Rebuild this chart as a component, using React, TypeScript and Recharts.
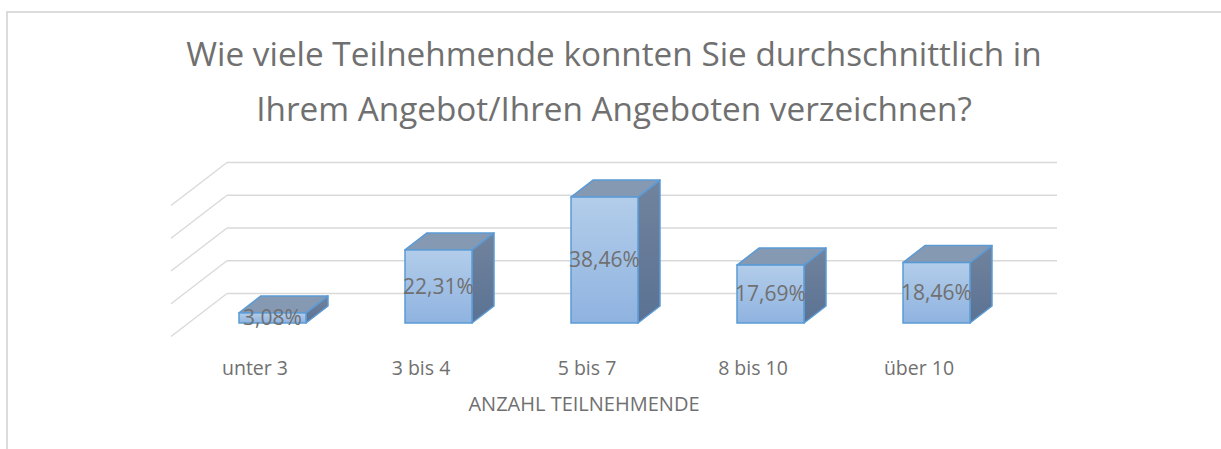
import React from 'react';
import { BarChart, Bar, XAxis, YAxis, CartesianGrid, LabelList } from 'recharts';

const categories = ['unter 3', '3 bis 4', '5 bis 7', '8 bis 10', 'über 10'];
const shares = [3.08, 22.31, 38.46, 17.69, 18.46];
const yTicks = [0, 10, 20, 30, 40];

const TITLE_1 = 'Wie viele Teilnehmende konnten Sie durchschnittlich in';
const TITLE_2 = 'Ihrem Angebot/Ihren Angeboten verzeichnen?';
const AXIS_TITLE = 'ANZAHL TEILNEHMENDE';

const data = categories.map((name, i) => ({ name, value: shares[i] }));

const FONT = '"Open Sans", sans-serif';
const TEXT = '#707070';
const GRID = '#d9d9d9';
const EDGE = '#5b9bd5';

// perspective offsets
const BAR_DX = 22, BAR_DY = 17;
const WALL_DX = 38, WALL_DY = 29.5;
const SIDE_DX = 56, SIDE_DY = 43;
const LABEL_SHIFT = -17;

const fmt = (v: any) => `${Number(v).toFixed(2).replace('.', ',')}%`;

function Box3D(props: any) {
  const { x, y, width: w, height: h } = props;
  if (w == null || h == null) return null;
  const top = `${x},${y} ${x + BAR_DX},${y - BAR_DY} ${x + w + BAR_DX},${y - BAR_DY} ${x + w},${y}`;
  const side = `${x + w},${y} ${x + w + BAR_DX},${y - BAR_DY} ${x + w + BAR_DX},${y + h - BAR_DY} ${x + w},${y + h}`;
  return (
    <g>
      <polygon points={side} fill="url(#sideGrad)" stroke={EDGE} strokeWidth={1.5} strokeLinejoin="round" />
      <polygon points={top} fill="#8699b2" stroke={EDGE} strokeWidth={1.5} strokeLinejoin="round" />
      <rect x={x} y={y} width={w} height={h} fill="url(#frontGrad)" stroke={EDGE} strokeWidth={1.5} />
    </g>
  );
}

function WallLine(props: any) {
  const { x1, y1, x2, index } = props;
  const bx = x1 + WALL_DX, by = y1 - WALL_DY;
  return (
    <g key={`wall-${index}`}>
      <line x1={bx} y1={by} x2={x2 + WALL_DX} y2={by} stroke={GRID} strokeWidth={1.3} />
      <line x1={bx} y1={by} x2={bx - SIDE_DX} y2={by + SIDE_DY} stroke={GRID} strokeWidth={1.3} />
    </g>
  );
}

function CategoryTick(props: any) {
  const { x, y, payload } = props;
  return (
    <text x={x + LABEL_SHIFT} y={y + 52} textAnchor="middle" fontFamily={FONT} fontSize={19.5} fill={TEXT}>
      {payload.value}
    </text>
  );
}

export default function App() {
  return (
    <div style={{ position: 'absolute', left: 0, top: 0, width: 1221, height: 449, overflow: 'hidden', background: '#fff' }}>
      <div style={{ position: 'absolute', left: 6, top: 11, width: 1300, height: 500, border: '2px solid #dcdcdc' }} />
      <div style={{ position: 'absolute', left: 0, top: 0 }}>
        <BarChart width={1221} height={449} data={data} margin={{ top: 192, right: 202, bottom: 96, left: 189 }}>
          <defs>
            <linearGradient id="frontGrad" x1="0" y1="0" x2="0" y2="1">
              <stop offset="0%" stopColor="#b3cdea" />
              <stop offset="100%" stopColor="#8fb3e0" />
            </linearGradient>
            <linearGradient id="sideGrad" x1="0" y1="0" x2="0" y2="1">
              <stop offset="0%" stopColor="#71839d" />
              <stop offset="100%" stopColor="#5b7293" />
            </linearGradient>
          </defs>
          <CartesianGrid vertical={false} horizontal={(p: any) => <WallLine {...p} />} />
          <YAxis hide domain={[0, 40]} ticks={yTicks} />
          <XAxis dataKey="name" height={30} axisLine={false} tickLine={false} tickSize={0} tickMargin={0}
            tick={<CategoryTick />} interval={0} />
          <Bar dataKey="value" barSize={67} isAnimationActive={false} shape={(p: any) => <Box3D {...p} />}>
            <LabelList dataKey="value" position="center" formatter={fmt}
              style={{ fontFamily: FONT, fontSize: 21, fill: TEXT }} />
          </Bar>
        </BarChart>
      </div>
      <svg width={1221} height={449} style={{ position: 'absolute', left: 0, top: 0, pointerEvents: 'none' }}>
        <text x={614} y={66} textAnchor="middle" fontFamily={FONT} fontSize={33.3} fill={TEXT}>{TITLE_1}</text>
        <text x={614} y={121} textAnchor="middle" fontFamily={FONT} fontSize={33.3} fill={TEXT}>{TITLE_2}</text>
        <text x={584} y={411} textAnchor="middle" fontFamily={FONT} fontSize={20} fill={TEXT}>{AXIS_TITLE}</text>
      </svg>
    </div>
  );
}
